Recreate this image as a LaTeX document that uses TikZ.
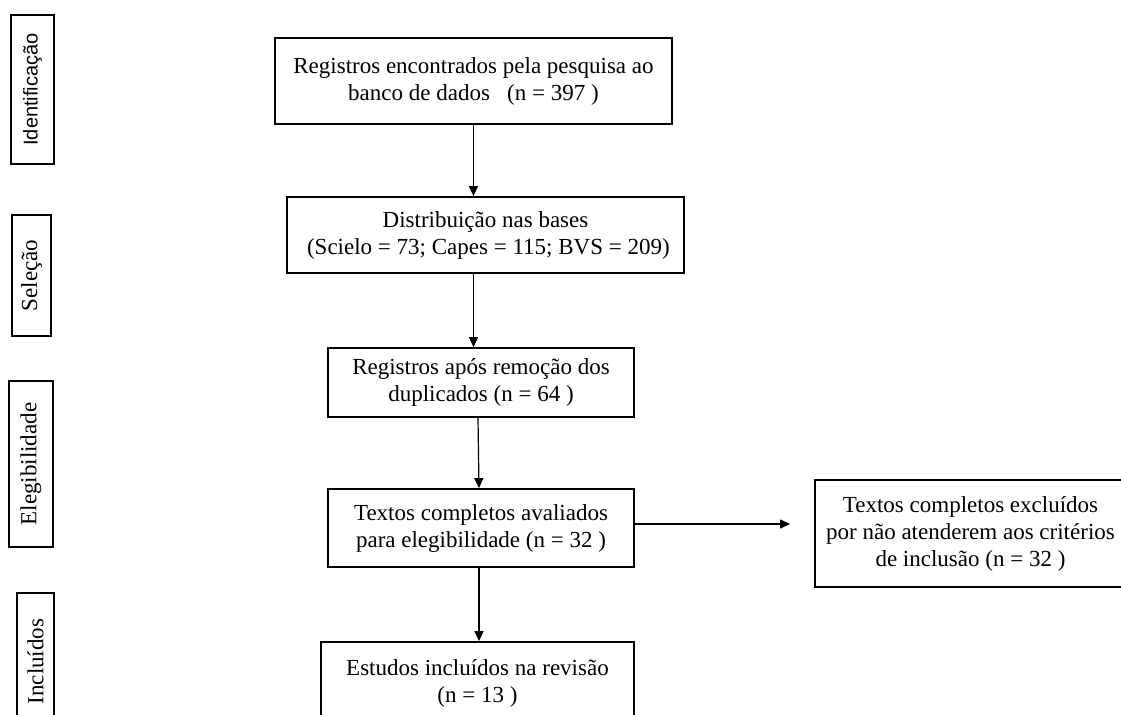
\documentclass[tikz,border=0pt]{standalone}
\usepackage{fontspec}
\setmainfont{Liberation Serif}
\newfontfamily\labelsans{Liberation Sans}
\usetikzlibrary{arrows.meta}

\begin{document}
\begin{tikzpicture}[x=0.5pt, y=-0.5pt,
    stagebox/.style={draw, line width=0.9pt, rotate=90, inner sep=0pt,
      font=\fontsize{11.5}{13.5}\selectfont},
    flowbox/.style={draw, line width=0.9pt, align=center, inner sep=0pt,
      font=\fontsize{11.5}{13.5}\selectfont},
    flowarrow/.style={-{Triangle[length=5pt, width=4.5pt]}, line width=0.6pt}]
  \useasboundingbox (0,0) rectangle (1121,714);
  % --- Stage labels (left column) ---
  \node[stagebox, minimum width=74.5pt, minimum height=21.5pt,
        font=\labelsans\fontsize{10}{12}\selectfont] (ident) at (32.5,89.5)
    {Identificação};
  \node[stagebox, minimum width=60.5pt, minimum height=19.5pt] (selec)
    at (31.5,275.5) {Seleção};
  \node[stagebox, minimum width=83pt, minimum height=22pt] (elegi)
    at (31,464) {Elegibilidade};
  \node[stagebox, minimum width=68.5pt, minimum height=18.5pt] (inclu)
    at (35.5,661.5) {Incluídos};
  % --- Flow boxes ---
  \node[flowbox, minimum width=198.5pt, minimum height=43pt] (found)
    at (473.5,81)
    {Registros encontrados pela pesquisa ao\\
     banco de dados~~~(n = 397~)};
  \node[flowbox, minimum width=198.5pt, minimum height=38pt] (bases)
    at (485.5,235)
    {Distribuição nas bases\\
     ~(Scielo = 73; Capes = 115; BVS = 209)};
  \node[flowbox, minimum width=153pt, minimum height=34.5pt] (dedup)
    at (481,382.5)
    {Registros após remoção dos\\
     duplicados (n = 64~)};
  \node[flowbox, minimum width=153pt, minimum height=39pt] (fulltext)
    at (481,528)
    {Textos completos avaliados\\
     para elegibilidade (n = 32~)};
  \node[flowbox, minimum width=156.5pt, minimum height=41pt] (included)
    at (477.5,683)
    {Estudos incluídos na revisão\\
     (n = 13~)};
  \node[flowbox, minimum width=155.5pt, minimum height=53.5pt] (excluded)
    at (970.5,533.5)
    {Textos completos excluídos\\
     por não atenderem aos critérios\\
     de inclusão (n = 32~)};
  % --- Arrows ---
  \draw[flowarrow] (found.south) -- (found.south |- bases.north);
  \draw[flowarrow] (found.south |- bases.south) -- (found.south |- dedup.north);
  \draw[flowarrow] ([xshift=-1.5pt]dedup.south) -- ([xshift=-1pt]fulltext.north);
  \draw[flowarrow] ([xshift=-1pt]fulltext.south) -- ([xshift=-1pt]fulltext.south |- included.north);
  \draw[flowarrow, shorten >=12pt] ([yshift=2pt]fulltext.east)
    -- ([yshift=2pt]fulltext.east -| excluded.west);
\end{tikzpicture}
\end{document}
